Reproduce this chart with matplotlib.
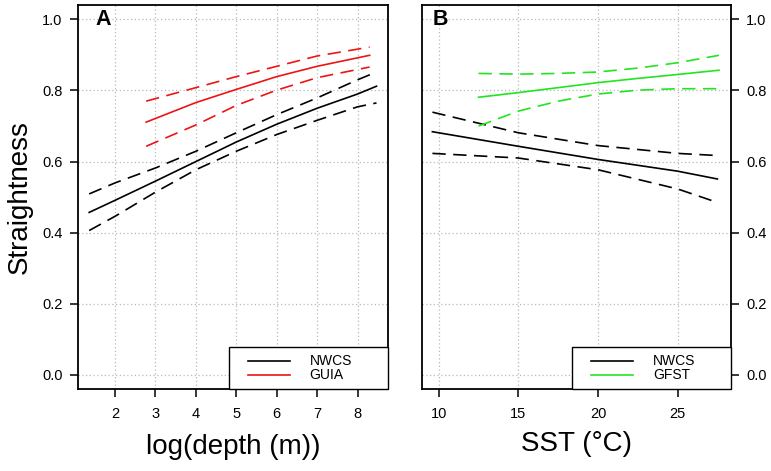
import matplotlib.pyplot as plt
import matplotlib.patches as patches
from matplotlib.lines import Line2D

plt.rcParams['font.family'] = ['Liberation Sans', 'DejaVu Sans']

# Panel A: straightness vs log(depth)
depth_nwcs = [1.36, 2, 3, 4, 5, 6, 7, 8, 8.47]
nwcs_a_fit = [0.457, 0.491, 0.545, 0.600, 0.655, 0.705, 0.750, 0.790, 0.812]
nwcs_a_upper = [0.509, 0.540, 0.582, 0.629, 0.681, 0.732, 0.779, 0.830, 0.852]
nwcs_a_lower = [0.406, 0.446, 0.514, 0.577, 0.629, 0.676, 0.716, 0.754, 0.765]

depth_guia = [2.77, 4, 5, 6, 7, 8.3]
guia_fit = [0.711, 0.766, 0.803, 0.839, 0.868, 0.899]
guia_upper = [0.770, 0.808, 0.839, 0.868, 0.897, 0.922]
guia_lower = [0.643, 0.703, 0.758, 0.801, 0.836, 0.866]

# Panel B: straightness vs SST
sst_nwcs = [9.6, 15, 20, 25, 27.5]
nwcs_b_fit = [0.684, 0.643, 0.606, 0.573, 0.551]
nwcs_b_upper = [0.739, 0.681, 0.645, 0.623, 0.617]
nwcs_b_lower = [0.623, 0.610, 0.577, 0.523, 0.485]

sst_gfst = [12.5, 15, 17.5, 20, 22.5, 25, 27.6]
gfst_fit = [0.781, 0.794, 0.808, 0.822, 0.834, 0.845, 0.857]
gfst_upper = [0.848, 0.846, 0.848, 0.852, 0.863, 0.878, 0.899]
gfst_lower = [0.700, 0.742, 0.770, 0.790, 0.801, 0.805, 0.805]

depth_ticks = [2, 3, 4, 5, 6, 7, 8]
sst_ticks = [10, 15, 20, 25]
y_ticks = [0.0, 0.2, 0.4, 0.6, 0.8, 1.0]

RED = '#ee1414'
GREEN = '#22e422'
DASH = (0, (8, 4.5))
LW = 1.2


def draw_band(ax, x, fit, upper, lower, color):
    ax.plot(x, fit, color=color, lw=LW, zorder=3)
    ax.plot(x, upper, color=color, lw=LW, ls=DASH, zorder=3)
    ax.plot(x, lower, color=color, lw=LW, ls=DASH, zorder=3)


def draw_legend(ax, labels, colors):
    # R-style legend box in the lower right corner
    box = patches.Rectangle((0.486, 0.0), 0.514, 0.11, transform=ax.transAxes,
                            facecolor='white', edgecolor='black', lw=1.0,
                            zorder=5, clip_on=False)
    ax.add_patch(box)
    for yy, lab, col in zip([0.074, 0.036], labels, colors):
        ax.add_line(Line2D([0.549, 0.683], [yy, yy], transform=ax.transAxes,
                           color=col, lw=LW, zorder=6))
        ax.text(0.748, yy, lab, transform=ax.transAxes, fontsize=10,
                va='center', ha='left', zorder=6)


def style_axes(ax, xticks):
    ax.set_ylim(-0.04, 1.04)
    ax.set_xticks(xticks)
    ax.set_xticklabels([str(t) for t in xticks])
    ax.set_yticks(y_ticks)
    ax.set_yticklabels([f'{t:.1f}' for t in y_ticks])
    ax.grid(True, color='#b8b8b8', ls=(0, (1, 2)), lw=0.9)
    ax.set_axisbelow(True)
    for s in ax.spines.values():
        s.set_linewidth(1.3)
    ax.tick_params(axis='both', direction='out', length=6, width=1.1,
                   labelsize=10.5)
    ax.tick_params(axis='x', pad=7)
    ax.tick_params(axis='y', pad=5)


fig = plt.figure(figsize=(7.71, 4.71), dpi=100)
ax1 = fig.add_axes([0.101, 0.174, 0.402, 0.815])
ax2 = fig.add_axes([0.547, 0.174, 0.401, 0.815])

draw_band(ax1, depth_nwcs, nwcs_a_fit, nwcs_a_upper, nwcs_a_lower, 'black')
draw_band(ax1, depth_guia, guia_fit, guia_upper, guia_lower, RED)
style_axes(ax1, depth_ticks)
ax1.set_xlim(1.08, 8.75)
ax1.set_xlabel('log(depth (m))', fontsize=20, labelpad=9)
ax1.set_ylabel('Straightness', fontsize=20, labelpad=7)
ax1.text(1.7, 1.0, 'A', fontsize=15.5, fontweight='bold', ha='center',
         va='center')
draw_legend(ax1, ['NWCS', 'GUIA'], ['black', RED])

draw_band(ax2, sst_nwcs, nwcs_b_fit, nwcs_b_upper, nwcs_b_lower, 'black')
draw_band(ax2, sst_gfst, gfst_fit, gfst_upper, gfst_lower, GREEN)
style_axes(ax2, sst_ticks)
ax2.set_xlim(8.93, 28.35)
ax2.yaxis.tick_right()
ax2.set_xlabel('SST (°C)', fontsize=20, labelpad=7)
ax2.text(10.1, 1.0, 'B', fontsize=15.5, fontweight='bold', ha='center',
         va='center')
draw_legend(ax2, ['NWCS', 'GFST'], ['black', GREEN])

fig.savefig('out.png', dpi=100)
